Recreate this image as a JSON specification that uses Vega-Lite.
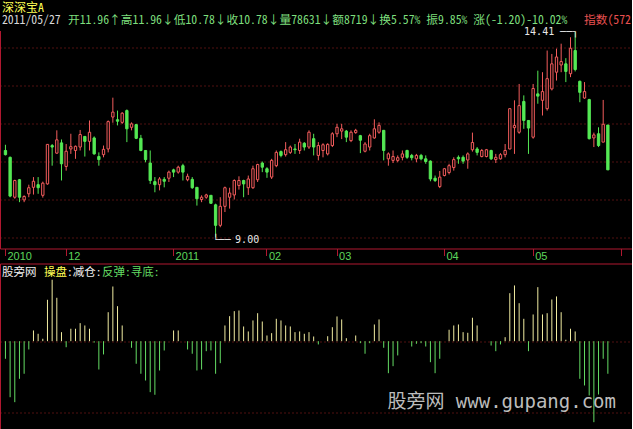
{
"$schema": "https://vega.github.io/schema/vega-lite/v6.json",
"background": "#000000",
"padding": {"top": 0.5, "left": 0, "right": 0, "bottom": 0},
"config": {"view": {"stroke": null}, "axis": {"labels": false, "ticks": false, "grid": false, "domain": false, "titleFont": "Noto Sans Mono CJK SC, DejaVu Sans Mono, Noto Sans CJK SC", "titleFontSize": 12, "titleFontWeight": "normal", "titleAngle": 0, "titleAlign": "left", "titleBaseline": "middle"}},
"data": {"values": [
{"date":"2010-11-12","open":11.29,"high":11.44,"low":11.16,"close":11.18,"v":-24.8},
{"date":"2010-11-15","open":11.11,"high":11.13,"low":10.06,"close":10.09,"v":-78.9},
{"date":"2010-11-16","open":10.06,"high":10.52,"low":10.02,"close":10.50,"v":-85.9},
{"date":"2010-11-17","open":10.52,"high":10.54,"low":9.93,"close":10.06,"v":-53.0},
{"date":"2010-11-18","open":9.99,"high":10.11,"low":9.93,"close":10.08,"v":-45.9},
{"date":"2010-11-19","open":10.15,"high":10.39,"low":10.06,"close":10.31,"v":-11.7},
{"date":"2010-11-22","open":10.32,"high":10.59,"low":10.13,"close":10.48,"v":15.1},
{"date":"2010-11-23","open":10.39,"high":10.59,"low":10.15,"close":10.31,"v":10.4},
{"date":"2010-11-24","open":10.11,"high":10.47,"low":10.05,"close":10.43,"v":3.4},
{"date":"2010-11-25","open":10.41,"high":11.46,"low":10.39,"close":11.45,"v":58.3},
{"date":"2010-11-26","open":11.42,"high":11.46,"low":10.89,"close":11.38,"v":86.5},
{"date":"2010-11-29","open":11.22,"high":11.82,"low":11.20,"close":11.57,"v":61.1},
{"date":"2010-11-30","open":11.49,"high":11.58,"low":10.50,"close":10.94,"v":12.7},
{"date":"2010-12-01","open":10.87,"high":11.46,"low":10.76,"close":11.27,"v":-8.5},
{"date":"2010-12-02","open":11.33,"high":11.73,"low":11.20,"close":11.39,"v":17.5},
{"date":"2010-12-03","open":11.29,"high":11.42,"low":11.07,"close":11.40,"v":17.5},
{"date":"2010-12-06","open":11.38,"high":11.83,"low":11.29,"close":11.71,"v":25.4},
{"date":"2010-12-07","open":11.66,"high":11.67,"low":11.13,"close":11.53,"v":22.1},
{"date":"2010-12-08","open":11.53,"high":12.08,"low":11.29,"close":11.77,"v":17.5},
{"date":"2010-12-09","open":11.62,"high":11.66,"low":11.18,"close":11.20,"v":-2},
{"date":"2010-12-10","open":11.13,"high":11.24,"low":10.89,"close":11.05,"v":-39.9},
{"date":"2010-12-13","open":11.18,"high":11.42,"low":11.11,"close":11.32,"v":-18.7},
{"date":"2010-12-14","open":11.33,"high":12.08,"low":11.24,"close":12.05,"v":40.8},
{"date":"2010-12-15","open":12.17,"high":12.68,"low":12.02,"close":12.30,"v":77.0},
{"date":"2010-12-16","open":12.10,"high":12.34,"low":11.95,"close":12.06,"v":49.3},
{"date":"2010-12-17","open":12.03,"high":12.30,"low":11.99,"close":12.27,"v":22.1},
{"date":"2010-12-20","open":12.34,"high":12.37,"low":11.51,"close":11.86,"v":0},
{"date":"2010-12-21","open":11.90,"high":12.03,"low":11.82,"close":11.99,"v":-9.3},
{"date":"2010-12-22","open":11.97,"high":11.99,"low":11.59,"close":11.61,"v":-31.8},
{"date":"2010-12-23","open":11.61,"high":11.70,"low":11.27,"close":11.29,"v":-45.9},
{"date":"2010-12-24","open":11.29,"high":11.29,"low":10.98,"close":11.05,"v":-55.4},
{"date":"2010-12-27","open":10.96,"high":11.29,"low":10.41,"close":10.50,"v":-71.8},
{"date":"2010-12-28","open":10.47,"high":10.59,"low":10.19,"close":10.39,"v":-75.5},
{"date":"2010-12-29","open":10.39,"high":10.59,"low":10.24,"close":10.54,"v":-41.3},
{"date":"2010-12-30","open":10.53,"high":10.59,"low":10.32,"close":10.48,"v":-13.1},
{"date":"2010-12-31","open":10.56,"high":10.76,"low":10.46,"close":10.72,"v":0},
{"date":"2011-01-04","open":10.78,"high":10.81,"low":10.59,"close":10.72,"v":15.1},
{"date":"2011-01-05","open":10.72,"high":10.89,"low":10.68,"close":10.85,"v":15.1},
{"date":"2011-01-06","open":10.89,"high":10.94,"low":10.50,"close":10.72,"v":0},
{"date":"2011-01-07","open":10.52,"high":10.68,"low":10.48,"close":10.61,"v":-11.7},
{"date":"2011-01-10","open":10.53,"high":10.59,"low":10.28,"close":10.31,"v":-17.7},
{"date":"2011-01-11","open":10.32,"high":10.32,"low":9.84,"close":10.02,"v":-41.3},
{"date":"2011-01-12","open":10.00,"high":10.11,"low":9.93,"close":10.06,"v":-39.9},
{"date":"2011-01-13","open":10.06,"high":10.15,"low":10.02,"close":10.12,"v":-14.1},
{"date":"2011-01-14","open":10.11,"high":10.11,"low":9.89,"close":9.90,"v":-13.1},
{"date":"2011-01-17","open":9.86,"high":9.89,"low":9.00,"close":9.32,"v":-45.9},
{"date":"2011-01-18","open":9.32,"high":10.06,"low":9.27,"close":9.82,"v":-31.0},
{"date":"2011-01-19","open":9.82,"high":10.34,"low":9.67,"close":10.31,"v":22.1},
{"date":"2011-01-20","open":10.06,"high":10.31,"low":9.76,"close":10.17,"v":35.2},
{"date":"2011-01-21","open":10.12,"high":10.53,"low":10.00,"close":10.50,"v":42.3},
{"date":"2011-01-24","open":10.37,"high":10.61,"low":10.26,"close":10.50,"v":43.2},
{"date":"2011-01-25","open":10.50,"high":10.52,"low":10.06,"close":10.41,"v":20.7},
{"date":"2011-01-26","open":10.31,"high":10.63,"low":10.12,"close":10.54,"v":13.7},
{"date":"2011-01-27","open":10.31,"high":10.89,"low":10.28,"close":10.81,"v":29.2},
{"date":"2011-01-28","open":10.52,"high":10.94,"low":10.46,"close":10.92,"v":39.4},
{"date":"2011-01-31","open":10.96,"high":11.00,"low":10.72,"close":10.85,"v":27.7},
{"date":"2011-02-01","open":10.81,"high":10.85,"low":10.57,"close":10.72,"v":8.0},
{"date":"2011-02-09","open":10.59,"high":11.07,"low":10.54,"close":11.03,"v":11.3},
{"date":"2011-02-10","open":10.89,"high":11.29,"low":10.85,"close":11.24,"v":31.5},
{"date":"2011-02-11","open":11.26,"high":11.29,"low":11.11,"close":11.16,"v":29.2},
{"date":"2011-02-14","open":11.18,"high":11.51,"low":11.13,"close":11.31,"v":22.1},
{"date":"2011-02-15","open":11.24,"high":11.42,"low":11.20,"close":11.38,"v":20.7},
{"date":"2011-02-16","open":11.33,"high":11.46,"low":11.20,"close":11.31,"v":12.7},
{"date":"2011-02-17","open":11.29,"high":11.60,"low":11.20,"close":11.51,"v":13.7},
{"date":"2011-02-18","open":11.48,"high":11.51,"low":11.29,"close":11.38,"v":10.4},
{"date":"2011-02-21","open":11.38,"high":11.82,"low":11.33,"close":11.77,"v":12.7},
{"date":"2011-02-22","open":11.60,"high":11.73,"low":11.16,"close":11.38,"v":6.6},
{"date":"2011-02-23","open":11.16,"high":11.51,"low":11.03,"close":11.42,"v":-4.6},
{"date":"2011-02-24","open":11.29,"high":11.48,"low":11.11,"close":11.44,"v":0},
{"date":"2011-02-25","open":11.20,"high":11.48,"low":11.16,"close":11.45,"v":7.0},
{"date":"2011-02-28","open":11.42,"high":11.77,"low":11.38,"close":11.73,"v":19.7},
{"date":"2011-03-01","open":11.73,"high":11.99,"low":11.64,"close":11.90,"v":34.8},
{"date":"2011-03-02","open":11.80,"high":11.99,"low":11.59,"close":11.86,"v":30.6},
{"date":"2011-03-03","open":11.80,"high":11.83,"low":11.51,"close":11.64,"v":4.2},
{"date":"2011-03-04","open":11.55,"high":11.82,"low":11.51,"close":11.77,"v":0},
{"date":"2011-03-07","open":11.76,"high":11.86,"low":11.73,"close":11.82,"v":8.0},
{"date":"2011-03-08","open":11.68,"high":11.70,"low":11.22,"close":11.56,"v":-2.8},
{"date":"2011-03-09","open":11.27,"high":11.51,"low":11.24,"close":11.46,"v":-17.7},
{"date":"2011-03-10","open":11.38,"high":11.73,"low":11.29,"close":11.68,"v":-2.8},
{"date":"2011-03-11","open":11.62,"high":12.11,"low":11.60,"close":11.86,"v":23.5},
{"date":"2011-03-14","open":11.77,"high":12.03,"low":11.73,"close":11.95,"v":30.6},
{"date":"2011-03-15","open":11.82,"high":11.83,"low":11.03,"close":11.29,"v":-9.3},
{"date":"2011-03-16","open":11.07,"high":11.24,"low":10.89,"close":11.20,"v":-45.1},
{"date":"2011-03-17","open":11.03,"high":11.29,"low":10.96,"close":11.13,"v":-35.2},
{"date":"2011-03-18","open":11.03,"high":11.16,"low":10.98,"close":11.10,"v":-20.1},
{"date":"2011-03-21","open":11.11,"high":11.29,"low":11.03,"close":11.20,"v":0},
{"date":"2011-03-22","open":11.29,"high":11.31,"low":11.07,"close":11.11,"v":0},
{"date":"2011-03-23","open":11.16,"high":11.20,"low":11.03,"close":11.10,"v":-7.5},
{"date":"2011-03-24","open":11.07,"high":11.20,"low":10.98,"close":11.16,"v":-3.7},
{"date":"2011-03-25","open":11.16,"high":11.20,"low":11.03,"close":11.07,"v":-2.8},
{"date":"2011-03-28","open":11.07,"high":11.16,"low":10.94,"close":11.00,"v":-7.5},
{"date":"2011-03-29","open":11.01,"high":11.03,"low":10.48,"close":10.54,"v":-29.6},
{"date":"2011-03-30","open":10.56,"high":10.63,"low":10.46,"close":10.50,"v":-45.1},
{"date":"2011-03-31","open":10.34,"high":10.75,"low":10.30,"close":10.59,"v":-24.8},
{"date":"2011-04-01","open":10.63,"high":10.83,"low":10.61,"close":10.81,"v":0},
{"date":"2011-04-06","open":10.71,"high":10.94,"low":10.66,"close":10.89,"v":16.1},
{"date":"2011-04-07","open":10.84,"high":11.11,"low":10.76,"close":11.05,"v":22.1},
{"date":"2011-04-08","open":11.11,"high":11.16,"low":10.94,"close":11.07,"v":23.5},
{"date":"2011-04-11","open":11.11,"high":11.16,"low":10.94,"close":11.01,"v":12.7},
{"date":"2011-04-12","open":11.04,"high":11.24,"low":10.81,"close":11.20,"v":11.8},
{"date":"2011-04-13","open":11.31,"high":11.76,"low":11.26,"close":11.50,"v":33.0},
{"date":"2011-04-14","open":11.33,"high":11.38,"low":11.16,"close":11.24,"v":22.1},
{"date":"2011-04-15","open":11.13,"high":11.33,"low":11.11,"close":11.29,"v":0},
{"date":"2011-04-18","open":11.13,"high":11.33,"low":11.11,"close":11.31,"v":0},
{"date":"2011-04-19","open":11.29,"high":11.31,"low":11.04,"close":11.07,"v":-6.1},
{"date":"2011-04-20","open":11.05,"high":11.20,"low":10.96,"close":11.11,"v":-14.1},
{"date":"2011-04-21","open":11.07,"high":11.22,"low":11.05,"close":11.18,"v":-4.6},
{"date":"2011-04-22","open":11.18,"high":11.46,"low":11.11,"close":11.29,"v":5.6},
{"date":"2011-04-25","open":11.33,"high":12.40,"low":11.32,"close":12.39,"v":67.6},
{"date":"2011-04-26","open":11.89,"high":12.61,"low":11.20,"close":11.95,"v":78.5},
{"date":"2011-04-27","open":11.77,"high":13.04,"low":11.73,"close":12.47,"v":53.5},
{"date":"2011-04-28","open":12.58,"high":12.74,"low":11.86,"close":12.08,"v":31.5},
{"date":"2011-04-29","open":12.08,"high":12.08,"low":11.20,"close":11.88,"v":-14.1},
{"date":"2011-05-03","open":11.64,"high":13.04,"low":11.60,"close":12.92,"v":37.6},
{"date":"2011-05-04","open":12.78,"high":13.39,"low":12.52,"close":12.72,"v":76.1},
{"date":"2011-05-05","open":12.61,"high":13.35,"low":12.21,"close":12.84,"v":37.6},
{"date":"2011-05-06","open":12.39,"high":13.92,"low":12.34,"close":13.18,"v":39.4},
{"date":"2011-05-09","open":12.91,"high":13.83,"low":12.87,"close":13.57,"v":58.7},
{"date":"2011-05-10","open":13.35,"high":13.97,"low":13.13,"close":13.75,"v":63.0},
{"date":"2011-05-11","open":13.54,"high":14.10,"low":13.35,"close":13.63,"v":40.8},
{"date":"2011-05-12","open":13.57,"high":13.72,"low":13.09,"close":13.37,"v":2.0},
{"date":"2011-05-13","open":13.31,"high":14.27,"low":13.22,"close":13.98,"v":17.5},
{"date":"2011-05-18","open":13.92,"high":14.41,"low":13.37,"close":13.42,"v":13.7},
{"date":"2011-05-19","open":13.11,"high":13.13,"low":12.56,"close":12.82,"v":-53.0},
{"date":"2011-05-20","open":12.67,"high":13.09,"low":12.65,"close":12.84,"v":-62.4},
{"date":"2011-05-23","open":12.63,"high":12.65,"low":11.58,"close":11.60,"v":-76.5},
{"date":"2011-05-24","open":11.62,"high":11.76,"low":11.38,"close":11.70,"v":-114.1},
{"date":"2011-05-25","open":11.73,"high":11.90,"low":11.38,"close":11.42,"v":-75.1},
{"date":"2011-05-26","open":11.51,"high":12.62,"low":11.51,"close":11.98,"v":-24.8},
{"date":"2011-05-27","open":11.96,"high":11.96,"low":10.78,"close":10.78,"v":-45.9}
]},
"spacing": 15,
"bounds": "flush",
"vconcat": [
{
"width": 632, "height": 218,
"resolve": {"axis": {"x": "independent", "y": "independent"}},
"layer": [
{"layer": [
{"mark": {"type": "rule", "strokeWidth": 1},
 "encoding": {
  "x": {"field": "date", "type": "ordinal", "scale": {"domain": {"unionWith": ["2011-05-30","2011-05-31","2011-06-01","2011-06-02"]}, "paddingInner": 0.5, "paddingOuter": 0.917}, "axis": {"orient": "bottom", "bandPosition": 0.5, "values": ["2010-11-12","2010-12-01","2011-01-04","2011-02-01","2011-03-01","2011-04-01","2011-05-03","2011-06-01"], "labelExpr": "datum.value == '2010-11-12' ? '2010' : datum.value == '2011-01-04' ? '2011' : datum.value == '2011-06-01' ? '' : slice(datum.value, 5, 7)", "domain": true, "domainColor": "#b01830", "domainWidth": 1, "ticks": true, "tickColor": "#b01830", "tickSize": 7, "tickWidth": 1, "labels": true, "labelColor": "#5cd65c", "labelFont": "Liberation Sans", "labelFontSize": 11, "labelAlign": "left", "labelBaseline": "middle", "labelPadding": 0.5, "labelOffset": 2, "labelAngle": 0, "labelOverlap": false, "title": "开11.96↑高11.96↓低10.78↓收10.78↓量78631↓额8719↓换5.57% 振9.85% 涨(-1.20)-10.02%", "titleColor": "#7ddf7d", "titleFontSize": 11.75, "titleX": 67.5, "titleY": -229}},
  "y": {"field": "low", "type": "quantitative", "scale": {"domain": [8.7105, 14.4474], "nice": false, "zero": false}, "axis": {"orient": "left", "domain": true, "domainColor": "#b01830", "grid": true, "gridColor": "#a02020", "gridDash": [1, 3], "values": [9, 10, 11, 12, 13, 14], "labels": false, "ticks": false, "title": "2011/05/27", "titleColor": "#d8d8d8", "titleFontSize": 11.75, "titleX": 1.5, "titleY": -11}},
  "y2": {"field": "high"},
  "color": {"condition": {"test": "datum.close >= datum.open", "value": "#f25c5c"}, "value": "#54e854"}
 }},
{"mark": {"type": "bar", "strokeWidth": 1},
 "encoding": {
  "x": {"field": "date", "type": "ordinal", "scale": {"domain": {"unionWith": ["2011-05-30","2011-05-31","2011-06-01","2011-06-02"]}, "paddingInner": 0.5, "paddingOuter": 0.917}, "axis": {"orient": "bottom", "bandPosition": 0.5, "values": ["2010-11-12","2010-12-01","2011-01-04","2011-02-01","2011-03-01","2011-04-01","2011-05-03","2011-06-01"], "labelExpr": "datum.value == '2010-11-12' ? '2010' : datum.value == '2011-01-04' ? '2011' : datum.value == '2011-06-01' ? '' : slice(datum.value, 5, 7)", "domain": true, "domainColor": "#b01830", "domainWidth": 1, "ticks": true, "tickColor": "#b01830", "tickSize": 7, "tickWidth": 1, "labels": true, "labelColor": "#5cd65c", "labelFont": "Liberation Sans", "labelFontSize": 11, "labelAlign": "left", "labelBaseline": "middle", "labelPadding": 0.5, "labelOffset": 2, "labelAngle": 0, "labelOverlap": false, "title": "开11.96↑高11.96↓低10.78↓收10.78↓量78631↓额8719↓换5.57% 振9.85% 涨(-1.20)-10.02%", "titleColor": "#7ddf7d", "titleFontSize": 11.75, "titleX": 67.5, "titleY": -229}},
  "y": {"field": "open", "type": "quantitative", "scale": {"domain": [8.7105, 14.4474], "nice": false, "zero": false}, "axis": {"orient": "left", "domain": true, "domainColor": "#b01830", "grid": true, "gridColor": "#a02020", "gridDash": [1, 3], "values": [9, 10, 11, 12, 13, 14], "labels": false, "ticks": false, "title": "2011/05/27", "titleColor": "#d8d8d8", "titleFontSize": 11.75, "titleX": 1.5, "titleY": -11}},
  "y2": {"field": "close"},
  "fill": {"condition": {"test": "datum.close >= datum.open", "value": "#000000"}, "value": "#54e854"},
  "stroke": {"condition": {"test": "datum.close >= datum.open", "value": "#f25c5c"}, "value": "#54e854"}
 }}
]},
{"layer": [
{"transform": [{"joinaggregate": [{"op": "max", "field": "high", "as": "hmax"}]}, {"filter": "datum.high == datum.hmax"}],
 "mark": {"type": "text", "align": "right", "baseline": "middle", "dx": -21, "dy": 0, "font": "DejaVu Sans Mono", "fontSize": 10, "color": "#e8e8e8"},
 "encoding": {
  "x": {"field": "date", "type": "ordinal", "scale": {"domain": {"unionWith": ["2011-05-30","2011-05-31","2011-06-01","2011-06-02"]}, "paddingInner": 0.5, "paddingOuter": 0.917}, "axis": {"orient": "top", "domain": false, "labels": false, "ticks": false, "grid": false, "title": "深深宝A", "titleColor": "#ffff55", "titleX": 1.5, "titleY": -23.5}},
  "y": {"field": "high", "type": "quantitative", "scale": {"domain": [8.7105, 14.4474], "nice": false, "zero": false}, "axis": {"orient": "right", "domain": false, "grid": false, "labels": false, "ticks": false, "title": "指数(572", "titleColor": "#e85050", "titleFontSize": 11.75, "titleX": -48.5, "titleY": -11}},
  "text": {"field": "high", "type": "quantitative", "format": ".2f"}
 }},
{"transform": [{"joinaggregate": [{"op": "max", "field": "high", "as": "hmax"}]}, {"filter": "datum.high == datum.hmax"}],
 "mark": {"type": "text", "align": "right", "baseline": "middle", "dx": 3, "dy": 0, "font": "DejaVu Sans Mono", "fontSize": 10, "color": "#e8e8e8"},
 "encoding": {
  "x": {"field": "date", "type": "ordinal", "scale": {"domain": {"unionWith": ["2011-05-30","2011-05-31","2011-06-01","2011-06-02"]}, "paddingInner": 0.5, "paddingOuter": 0.917}, "axis": {"orient": "top", "domain": false, "labels": false, "ticks": false, "grid": false, "title": "深深宝A", "titleColor": "#ffff55", "titleX": 1.5, "titleY": -23.5}},
  "y": {"field": "high", "type": "quantitative", "scale": {"domain": [8.7105, 14.4474], "nice": false, "zero": false}, "axis": {"orient": "right", "domain": false, "grid": false, "labels": false, "ticks": false, "title": "指数(572", "titleColor": "#e85050", "titleFontSize": 11.75, "titleX": -48.5, "titleY": -11}},
  "text": {"value": "──┐"}
 }},
{"transform": [{"joinaggregate": [{"op": "min", "field": "low", "as": "lmin"}]}, {"filter": "datum.low == datum.lmin"}],
 "mark": {"type": "text", "align": "left", "baseline": "middle", "dx": 19.5, "dy": 2.5, "font": "DejaVu Sans Mono", "fontSize": 10, "color": "#e8e8e8"},
 "encoding": {
  "x": {"field": "date", "type": "ordinal", "scale": {"domain": {"unionWith": ["2011-05-30","2011-05-31","2011-06-01","2011-06-02"]}, "paddingInner": 0.5, "paddingOuter": 0.917}, "axis": {"orient": "top", "domain": false, "labels": false, "ticks": false, "grid": false, "title": "深深宝A", "titleColor": "#ffff55", "titleX": 1.5, "titleY": -23.5}},
  "y": {"field": "low", "type": "quantitative", "scale": {"domain": [8.7105, 14.4474], "nice": false, "zero": false}, "axis": {"orient": "right", "domain": false, "grid": false, "labels": false, "ticks": false, "title": "指数(572", "titleColor": "#e85050", "titleFontSize": 11.75, "titleX": -48.5, "titleY": -11}},
  "text": {"field": "low", "type": "quantitative", "format": ".2f"}
 }},
{"transform": [{"joinaggregate": [{"op": "min", "field": "low", "as": "lmin"}]}, {"filter": "datum.low == datum.lmin"}],
 "mark": {"type": "text", "align": "left", "baseline": "middle", "dx": -3, "dy": 2.5, "font": "DejaVu Sans Mono", "fontSize": 10, "color": "#e8e8e8"},
 "encoding": {
  "x": {"field": "date", "type": "ordinal", "scale": {"domain": {"unionWith": ["2011-05-30","2011-05-31","2011-06-01","2011-06-02"]}, "paddingInner": 0.5, "paddingOuter": 0.917}, "axis": {"orient": "top", "domain": false, "labels": false, "ticks": false, "grid": false, "title": "深深宝A", "titleColor": "#ffff55", "titleX": 1.5, "titleY": -23.5}},
  "y": {"field": "low", "type": "quantitative", "scale": {"domain": [8.7105, 14.4474], "nice": false, "zero": false}, "axis": {"orient": "right", "domain": false, "grid": false, "labels": false, "ticks": false, "title": "指数(572", "titleColor": "#e85050", "titleFontSize": 11.75, "titleX": -48.5, "titleY": -11}},
  "text": {"value": "└──"}
 }}
]}
]
},
{
"width": 632, "height": 166,
"title": {"text": "股旁网 www.gupang.com", "orient": "bottom", "anchor": "end", "frame": "group", "offset": -37, "dx": -16, "font": "DejaVu Sans Mono, Noto Sans CJK SC", "fontSize": 19, "fontWeight": "normal", "color": "#bcbcbc"},
"resolve": {"axis": {"x": "independent", "y": "independent"}},
"layer": [
{"transform": [{"filter": "datum.v >= 0"}],
 "mark": {"type": "rule", "strokeWidth": 1, "color": "#f0eba0"},
 "encoding": {
  "x": {"field": "date", "type": "ordinal", "scale": {"domain": {"unionWith": ["2011-05-30","2011-05-31","2011-06-01","2011-06-02"]}, "paddingInner": 0.5, "paddingOuter": 0.917}, "axis": {"orient": "top", "domain": true, "domainColor": "#b01830", "labels": false, "ticks": false, "grid": false, "title": ":减仓:", "titleColor": "#f0f0f0", "titleFontSize": 11.5, "titleX": 66.5, "titleY": 9}},
  "y": {"field": "v", "type": "quantitative", "scale": {"domain": [-124.4, 109.4], "nice": false, "zero": false}, "axis": {"orient": "left", "domain": true, "domainColor": "#b01830", "grid": true, "gridColor": "#a02020", "gridDash": [1, 3], "values": [0, -100], "labels": false, "ticks": false, "title": "操盘", "titleColor": "#ffff55", "titleFontSize": 11.5, "titleX": 43.5, "titleY": 9}},
  "y2": {"datum": 0}
 }},
{"transform": [{"filter": "datum.v < 0"}],
 "mark": {"type": "rule", "strokeWidth": 1, "color": "#64dc64"},
 "encoding": {
  "x": {"field": "date", "type": "ordinal", "scale": {"domain": {"unionWith": ["2011-05-30","2011-05-31","2011-06-01","2011-06-02"]}, "paddingInner": 0.5, "paddingOuter": 0.917}, "axis": {"orient": "bottom", "domain": false, "labels": false, "ticks": false, "grid": false, "title": "股旁网", "titleColor": "#f0f0f0", "titleFontSize": 11.5, "titleX": 1.5, "titleY": -157}},
  "y": {"field": "v", "type": "quantitative", "scale": {"domain": [-124.4, 109.4], "nice": false, "zero": false}, "axis": {"orient": "right", "domain": false, "grid": false, "labels": false, "ticks": false, "title": "反弹:寻底:", "titleColor": "#64dc64", "titleFontSize": 11.5, "titleX": -530.5, "titleY": 9}},
  "y2": {"datum": 0}
 }}
]
}
]
}
